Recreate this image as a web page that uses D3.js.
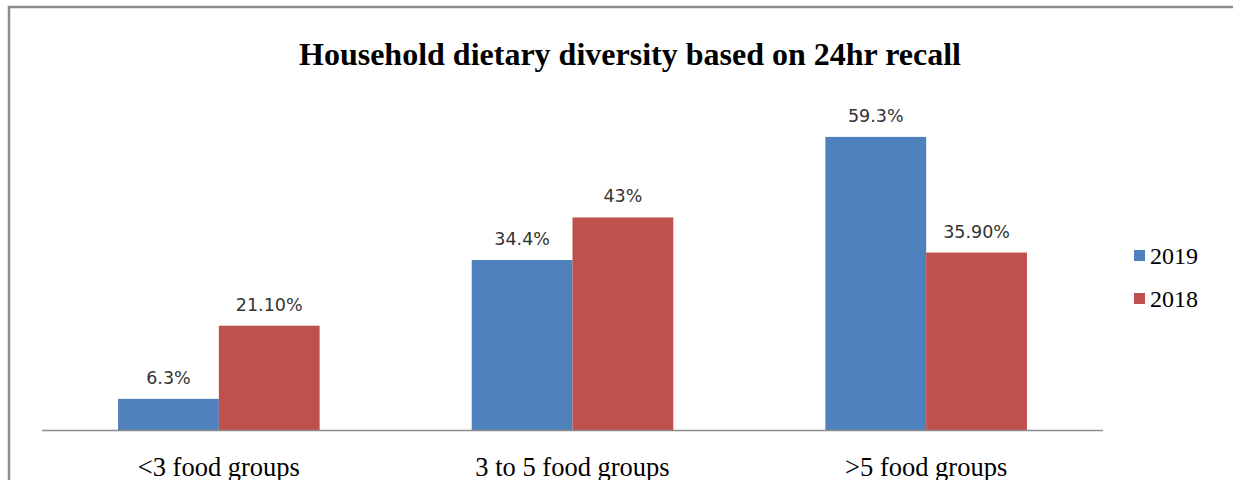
<!DOCTYPE html>
<html>
<head>
<meta charset="utf-8">
<script src="https://cdn.jsdelivr.net/npm/d3@7"></script>
<style>
  html, body { margin: 0; padding: 0; background: #fff; }
  svg { display: block; }
</style>
</head>
<body>
<svg id="chart" width="1233" height="480"></svg>
<script>
// Food-group categories and the share of households in each, by survey year
const categories = ["<3 food groups", "3 to 5 food groups", ">5 food groups"];
const years = ["2019", "2018"];
const values2019 = [6.3, 34.4, 59.3];
const values2018 = [21.1, 43.0, 35.9];
const labels2019 = ["6.3%", "34.4%", "59.3%"];
const labels2018 = ["21.10%", "43%", "35.90%"];
const colors = ["#4f81bd", "#c0504d"];

const svg = d3.select("#chart");
const W = 1233, H = 480;

// Outer frame of the chart area
svg.append("rect")
  .attr("x", 9).attr("y", 7)
  .attr("width", W + 20).attr("height", H + 20)
  .attr("fill", "#fff")
  .attr("stroke", "#8c8c8c").attr("stroke-width", 2.5);

const plot = { left: 42, right: 1103, top: 84, bottom: 430 };

const x0 = d3.scaleBand()
  .domain(categories)
  .range([plot.left, plot.right])
  .paddingInner(0.43).paddingOuter(0.215);

const x1 = d3.scaleBand()
  .domain(years)
  .range([0, x0.bandwidth()]);

const y = d3.scaleLinear().domain([0, 70]).range([plot.bottom, plot.top]);

const rows = categories.map((c, i) => ({
  cat: c,
  items: [
    { year: years[0], v: values2019[i], label: labels2019[i] },
    { year: years[1], v: values2018[i], label: labels2018[i] }
  ]
}));

// Title
svg.append("text")
  .attr("x", 630).attr("y", 65)
  .attr("text-anchor", "middle")
  .attr("font-family", "'Liberation Serif', 'Times New Roman', serif")
  .attr("font-weight", "bold")
  .attr("font-size", 32)
  .attr("fill", "#000")
  .text("Household dietary  diversity based on 24hr recall");

const groups = svg.selectAll("g.cat")
  .data(rows).enter().append("g")
  .attr("class", "cat")
  .attr("transform", d => `translate(${x0(d.cat)},0)`);

groups.selectAll("rect")
  .data(d => d.items).enter().append("rect")
  .attr("x", d => x1(d.year))
  .attr("y", d => y(d.v))
  .attr("width", x1.bandwidth())
  .attr("height", d => y(0) - y(d.v))
  .attr("fill", (d, i) => colors[i]);

groups.selectAll("text.val")
  .data(d => d.items).enter().append("text")
  .attr("class", "val")
  .attr("x", d => x1(d.year) + x1.bandwidth() / 2)
  .attr("y", d => y(d.v) - 15)
  .attr("text-anchor", "middle")
  .attr("font-family", "'DejaVu Sans', Verdana, sans-serif")
  .attr("font-size", 17.5)
  .attr("fill", "#333")
  .text(d => d.label);

// Category axis
const xAxis = svg.append("g")
  .attr("transform", `translate(0,${plot.bottom})`)
  .call(d3.axisBottom(x0).tickSize(0));
xAxis.select(".domain")
  .attr("d", `M${plot.left},0.5H${plot.right}`)
  .attr("stroke", "#8c8c8c").attr("stroke-width", 1.5);
xAxis.selectAll("text")
  .attr("y", 46).attr("dy", 0)
  .attr("font-family", "'Liberation Serif', 'Times New Roman', serif")
  .attr("font-size", 26.5)
  .attr("fill", "#000");

// Legend
const legend = svg.append("g").selectAll("g")
  .data(years).enter().append("g")
  .attr("transform", (d, i) => `translate(1134,${250 + i * 43})`);
legend.append("rect")
  .attr("width", 11).attr("height", 11)
  .attr("fill", (d, i) => colors[i]);
legend.append("text")
  .attr("x", 16).attr("y", 14)
  .attr("font-family", "'Liberation Serif', 'Times New Roman', serif")
  .attr("font-size", 24)
  .attr("fill", "#000")
  .text(d => d);
</script>
</body>
</html>
